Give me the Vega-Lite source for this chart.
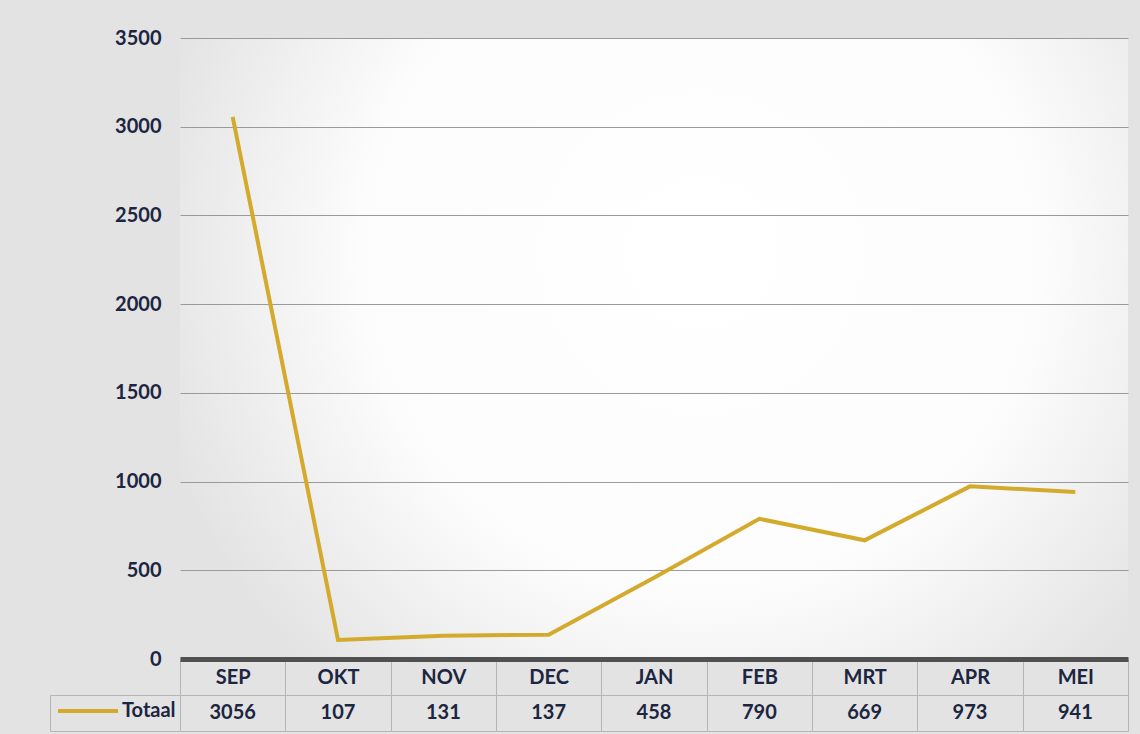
{
  "$schema": "https://vega.github.io/schema/vega-lite/v6.json",
  "background": "#e3e3e3",
  "padding": {"left": 49, "top": 28, "right": 12, "bottom": 3},
  "datasets": {
    "d": [
      {"maand": "SEP", "totaal": 3056},
      {"maand": "OKT", "totaal": 107},
      {"maand": "NOV", "totaal": 131},
      {"maand": "DEC", "totaal": 137},
      {"maand": "JAN", "totaal": 458},
      {"maand": "FEB", "totaal": 790},
      {"maand": "MRT", "totaal": 669},
      {"maand": "APR", "totaal": 973},
      {"maand": "MEI", "totaal": 941}
    ]
  },
  "config": {
    "font": "Lato",
    "view": {"stroke": null},
    "axis": {"labelFont": "Lato", "labelFontWeight": "bold", "labelFontSize": 20, "labelColor": "#1c2541"}
  },
  "bounds": "flush",
  "spacing": 36,
  "vconcat": [
    {
      "width": 948,
      "height": 621,
      "data": {"name": "d"},
      "view": {
        "stroke": null,
        "fill": {"gradient": "radial", "x1": 0.55, "y1": 0.4, "r1": 0, "x2": 0.55, "y2": 0.4, "r2": 0.6,
          "stops": [{"offset": 0, "color": "#ffffff"}, {"offset": 0.6, "color": "#fcfcfc"}, {"offset": 1, "color": "#e3e3e3"}]}
      },
      "mark": {"type": "line", "strokeWidth": 4},
      "encoding": {
        "x": {"field": "maand", "type": "ordinal", "sort": null,
          "scale": {"type": "band", "paddingInner": 0, "paddingOuter": 0},
          "axis": {"title": null, "labelAngle": 0, "domainColor": "#505050", "domainWidth": 5,
            "tickBand": "extent", "tickSize": 36, "tickColor": "#b5b5b5", "tickWidth": 1, "labelPadding": -28}},
        "y": {"field": "totaal", "type": "quantitative",
          "scale": {"domain": [0, 3500], "nice": false},
          "axis": {"title": null, "values": [0, 500, 1000, 1500, 2000, 2500, 3000, 3500], "format": "d",
            "domain": false, "ticks": false, "labelPadding": 19, "gridColor": "#9a9a9a", "gridWidth": 1, "gridOpacity": 1}},
        "color": {"datum": "Totaal", "type": "nominal", "scale": {"range": ["#d4aa2c"]},
          "legend": {"orient": "none", "legendX": -124, "legendY": 641, "title": null, "symbolType": "stroke",
            "symbolSize": 3600, "symbolStrokeWidth": 4, "symbolStrokeColor": "#d4aa2c", "labelFontSize": 20, "labelFontWeight": "bold",
            "labelColor": "#1c2541", "labelFont": "Lato", "padding": 0, "labelOffset": 2}}
      }
    },
    {
      "width": 948,
      "height": 36,
      "data": {"name": "d"},
      "view": {"stroke": "#b5b5b5"},
      "mark": {"type": "text", "font": "Lato", "fontWeight": "bold", "fontSize": 20, "color": "#1c2541"},
      "encoding": {
        "x": {"field": "maand", "type": "ordinal", "sort": null,
          "scale": {"type": "band", "paddingInner": 0, "paddingOuter": 0},
          "axis": {"title": null, "labels": false, "ticks": false, "domain": false, "grid": true,
            "tickBand": "extent", "gridColor": "#b5b5b5", "gridOpacity": 1}},
        "y": {"datum": "Totaal", "type": "nominal",
          "scale": {"type": "band", "paddingInner": 0, "paddingOuter": 0},
          "axis": {"title": null, "labels": false, "offset": 130, "domainColor": "#b5b5b5",
            "tickBand": "extent", "tickSize": -130, "tickColor": "#b5b5b5"}},
        "text": {"field": "totaal", "type": "quantitative", "format": "d"}
      }
    }
  ]
}
